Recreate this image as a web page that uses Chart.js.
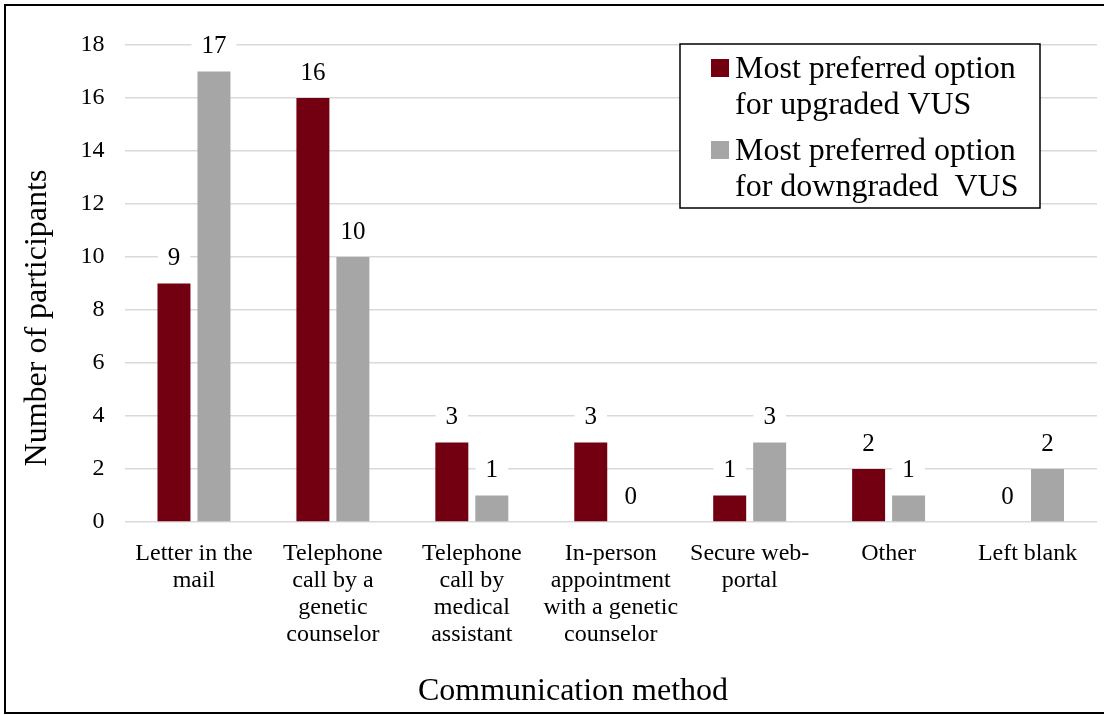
<!DOCTYPE html>
<html>
<head>
<meta charset="utf-8">
<title>Communication method preferences</title>
<script src="https://cdn.jsdelivr.net/npm/chart.js@4.4.1/dist/chart.umd.min.js"></script>
<style>
  html, body { margin: 0; padding: 0; background: #ffffff; }
  #wrap { position: relative; width: 1104px; height: 715px; }
</style>
</head>
<body>
<div id="wrap"><canvas id="chart" width="1104" height="715"></canvas></div>
<script>
// Survey answers: number of participants per preferred communication method
const categories = [
  ['Letter in the', 'mail'],
  ['Telephone', 'call by a', 'genetic', 'counselor'],
  ['Telephone', 'call by', 'medical', 'assistant'],
  ['In-person', 'appointment', 'with a genetic', 'counselor'],
  ['Secure web-', 'portal'],
  ['Other'],
  ['Left blank']
];
const upgradedVUS = [9, 16, 3, 3, 1, 2, 0];
const downgradedVUS = [17, 10, 1, 0, 3, 1, 2];
const seriesLabels = [
  ['Most preferred option', 'for upgraded VUS'],
  ['Most preferred option', 'for downgraded  VUS']
];
const yTicks = [0, 2, 4, 6, 8, 10, 12, 14, 16, 18];
const xTitle = 'Communication method';
const yTitle = 'Number of participants';

const SERIF = "'Liberation Serif', serif";
const RED = '#720010';
const GREY = '#a6a6a6';

// Value labels above each bar, on a white box that interrupts the grid
const valueLabels = {
  id: 'valueLabels',
  afterDatasetsDraw(chart) {
    const ctx = chart.ctx;
    ctx.save();
    ctx.font = '25px ' + SERIF;
    ctx.textAlign = 'center';
    ctx.textBaseline = 'middle';
    chart.data.datasets.forEach((ds, di) => {
      const meta = chart.getDatasetMeta(di);
      meta.data.forEach((bar, i) => {
        const txt = String(ds.data[i]);
        const cx = bar.x;
        const cy = bar.y - 26;
        const w = ctx.measureText(txt).width + 20;
        ctx.fillStyle = '#ffffff';
        ctx.fillRect(cx - w / 2, cy - 13, w, 26);
        ctx.fillStyle = '#000000';
        ctx.fillText(txt, cx, cy + 1);
      });
    });
    ctx.restore();
  }
};

// Boxed legend with two-line entries, axis titles and outer frame
const decorations = {
  id: 'decorations',
  afterDraw(chart) {
    const ctx = chart.ctx;
    ctx.save();

    // legend
    const lx = 680, ly = 44, lw = 360, lh = 164;
    ctx.fillStyle = '#ffffff';
    ctx.fillRect(lx, ly, lw, lh);
    ctx.strokeStyle = '#000000';
    ctx.lineWidth = 1.5;
    ctx.strokeRect(lx, ly, lw, lh);
    ctx.font = '32px ' + SERIF;
    ctx.textAlign = 'left';
    ctx.textBaseline = 'middle';
    chart.data.datasets.forEach((ds, di) => {
      const top = ly + 26 + di * 82;
      ctx.fillStyle = ds.backgroundColor;
      ctx.fillRect(lx + 31, top - 11, 18, 18);
      ctx.fillStyle = '#000000';
      seriesLabels[di].forEach((line, li) => {
        ctx.fillText(line, lx + 55, top + li * 36);
      });
    });

    // axis titles
    ctx.fillStyle = '#000000';
    ctx.font = '32px ' + SERIF;
    ctx.textAlign = 'center';
    ctx.textBaseline = 'middle';
    ctx.fillText(xTitle, 573, 692);
    ctx.save();
    ctx.translate(38, 318);
    ctx.rotate(-Math.PI / 2);
    ctx.fillText(yTitle, 0, 0);
    ctx.restore();

    // outer frame
    ctx.strokeStyle = '#000000';
    ctx.lineWidth = 2;
    ctx.strokeRect(5, 5, 1110, 708);
    ctx.restore();
  }
};

new Chart(document.getElementById('chart'), {
  type: 'bar',
  data: {
    labels: categories,
    datasets: [
      { label: seriesLabels[0].join(' '), data: upgradedVUS, backgroundColor: RED },
      { label: seriesLabels[1].join(' '), data: downgradedVUS, backgroundColor: GREY }
    ]
  },
  options: {
    responsive: false,
    animation: false,
    devicePixelRatio: 1,
    categoryPercentage: 0.5755,
    barPercentage: 0.825,
    font: { family: SERIF },
    layout: { padding: { top: 45, right: 7, left: 0, bottom: 0 } },
    plugins: {
      legend: { display: false },
      tooltip: { enabled: false },
      title: { display: false }
    },
    scales: {
      x: {
        grid: { display: false, drawTicks: false },
        border: { display: false },
        ticks: {
          color: '#000000',
          font: { family: SERIF, size: 24, lineHeight: 1.125 },
          padding: 18,
          maxRotation: 0,
          autoSkip: false
        },
        afterFit(scale) { scale.height = 193; }
      },
      y: {
        min: 0,
        max: 18,
        afterBuildTicks(scale) { scale.ticks = yTicks.map(v => ({ value: v })); },
        grid: { color: '#d9d9d9', lineWidth: 1.5, drawTicks: false },
        border: { display: false },
        ticks: {
          color: '#000000',
          font: { family: SERIF, size: 24 },
          padding: 20
        },
        afterFit(scale) { scale.width = 124.5; }
      }
    }
  },
  plugins: [valueLabels, decorations]
});
</script>
</body>
</html>
